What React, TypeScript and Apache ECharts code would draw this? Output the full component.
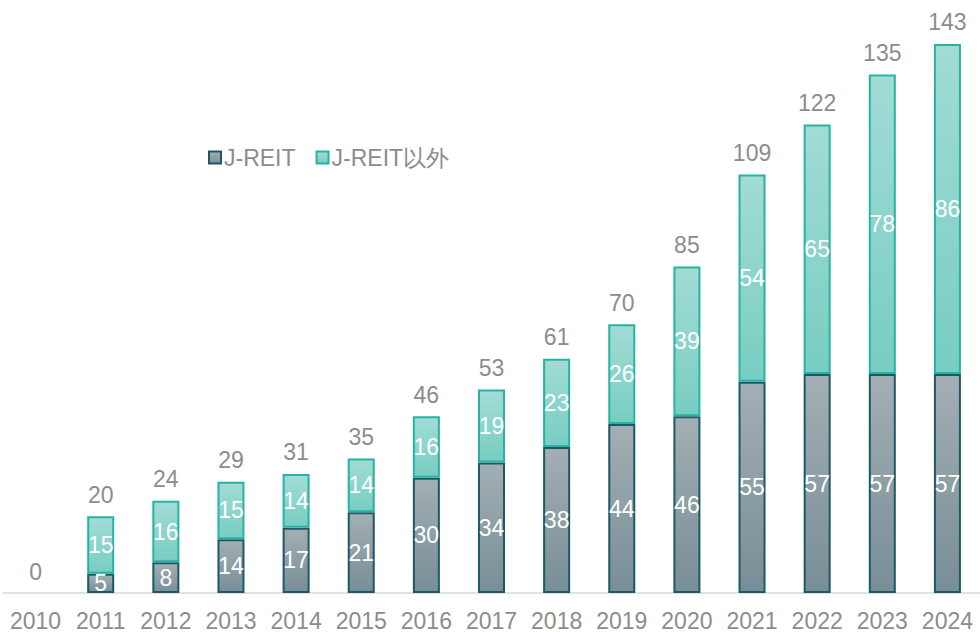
import React, { useEffect, useRef } from "react";
import * as echarts from "echarts";

const years = ["2010","2011","2012","2013","2014","2015","2016","2017","2018","2019","2020","2021","2022","2023","2024"];
const jreit = [0,5,8,14,17,21,30,34,38,44,46,55,57,57,57];
const others = [0,15,16,15,14,14,16,19,23,26,39,54,65,78,86];
const totals = [0,20,24,29,31,35,46,53,61,70,85,109,122,135,143];

const FONT = "'Liberation Sans', Arial, sans-serif";
const FS = 23;

export default function App() {
  const ref = useRef<HTMLDivElement>(null);
  useEffect(() => {
    const chart = echarts.init(ref.current!, null, { renderer: "svg" });
    const grad = (a: string, b: string) => ({
      type: "linear", x: 0, y: 0, x2: 0, y2: 1,
      colorStops: [{ offset: 0, color: a }, { offset: 1, color: b }],
    });
    const nz = (arr: number[]) => arr.map((v) => (v === 0 ? "-" : v));
    chart.setOption({
      animation: false,
      textStyle: { fontFamily: FONT },
      legend: {
        left: 203, top: 141,
        itemWidth: 12, itemHeight: 12, itemGap: 20,
        icon: "rect",
        textStyle: { fontSize: FS, color: "#8c8c8c", fontFamily: FONT, padding: [0, 0, 0, -2] },
        data: ["J-REIT", "J-REIT以外"],
      },
      grid: { left: 3, right: -5, top: 17, bottom: 39, containLabel: false },
      xAxis: {
        type: "category",
        data: years,
        axisLine: { lineStyle: { color: "#d9d9d9", width: 1.5 } },
        axisTick: { show: false },
        axisLabel: { interval: 0, hideOverlap: false, fontSize: FS, color: "#8c8c8c", margin: 16, fontFamily: FONT },
      },
      yAxis: {
        type: "value", min: 0, max: 150,
        show: false,
        splitLine: { show: false },
      },
      series: [
        {
          name: "J-REIT", type: "bar", stack: "s", barWidth: 27,
          data: nz(jreit),
          itemStyle: { color: grad("#a3afb4", "#788e96"), borderColor: "#1d5866", borderWidth: 2 },
          label: { show: true, position: "inside", color: "#ffffff", fontSize: FS, fontFamily: FONT },
        },
        {
          name: "J-REIT以外", type: "bar", stack: "s", barWidth: 27,
          data: nz(others),
          itemStyle: { color: grad("#a2dcd5", "#78cdc2"), borderColor: "#26b3a3", borderWidth: 2 },
          label: { show: true, position: "inside", color: "#ffffff", fontSize: FS, fontFamily: FONT },
        },
        {
          name: "total", type: "bar", stack: "s", barWidth: 27,
          data: totals.map(() => 0),
          itemStyle: { color: "transparent" },
          label: {
            show: true, position: "top", distance: 10, color: "#8c8c8c", fontSize: FS, fontFamily: FONT,
            formatter: (p: any) => String(totals[p.dataIndex]),
          },
        },
      ],
    });
    return () => chart.dispose();
  }, []);
  return <div ref={ref} style={{ width: 980, height: 632, position: "absolute", left: 0, top: 0 }} />;
}
